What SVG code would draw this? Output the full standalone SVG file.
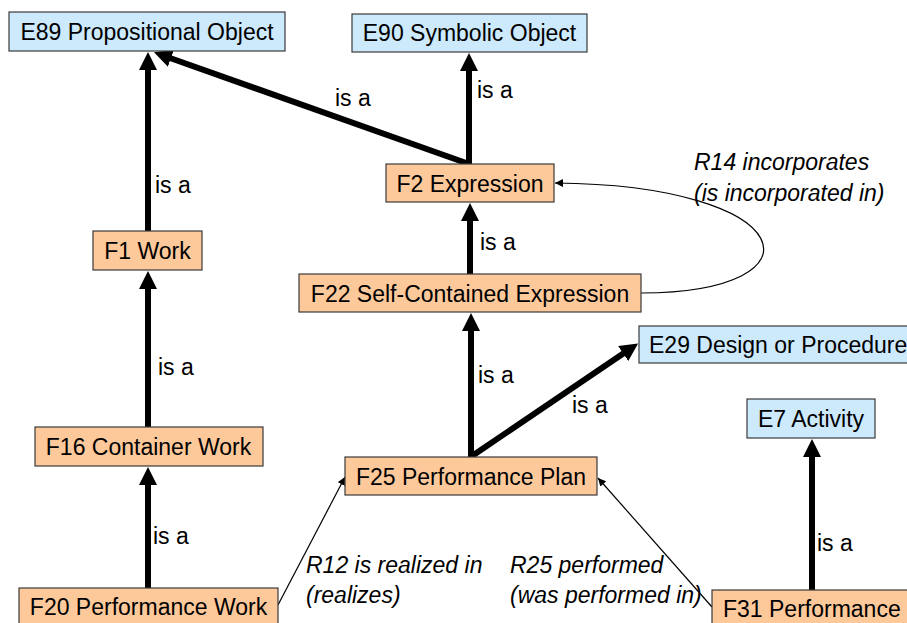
<svg xmlns="http://www.w3.org/2000/svg" width="907" height="623" viewBox="0 0 907 623">
<style>
text{font-family:"Liberation Sans",Arial,sans-serif;font-size:23px;fill:#000}
.m{text-anchor:middle}
.i{font-style:italic}
.b{fill:#cde9fc;stroke:#3a3a3a;stroke-width:1.2}
.o{fill:#fdc99b;stroke:#3a3a3a;stroke-width:1.2}
.t{fill:none;stroke:#000;stroke-width:6}
.n{fill:none;stroke:#000;stroke-width:1.2}
</style>
<defs>
<marker id="big" markerUnits="userSpaceOnUse" markerWidth="19" markerHeight="18" refX="1" refY="9" orient="auto"><path d="M0,0 L18,9 L0,18 z" fill="#000"/></marker>
<marker id="sm" markerUnits="userSpaceOnUse" markerWidth="9" markerHeight="8" refX="8" refY="4" orient="auto"><path d="M0,0 L8,4 L0,8 z" fill="#000"/></marker>
</defs>
<g id="connectors">
<path class="t" d="M148,231 L148,69" marker-end="url(#big)"/>
<path class="t" d="M469,164 L170,58" marker-end="url(#big)"/>
<path class="t" d="M469,164 L469,70" marker-end="url(#big)"/>
<path class="t" d="M470,274 L470,220" marker-end="url(#big)"/>
<path class="t" d="M471,457 L471,330" marker-end="url(#big)"/>
<path class="t" d="M472,456 L624,353" marker-end="url(#big)"/>
<path class="t" d="M148,427 L148,288" marker-end="url(#big)"/>
<path class="t" d="M148,588 L148,484" marker-end="url(#big)"/>
<path class="t" d="M812,590 L812,456" marker-end="url(#big)"/>
<path class="n" d="M278,605 L345,477" marker-end="url(#sm)"/>
<path class="n" d="M712,607 L598,478" marker-end="url(#sm)"/>
<path class="n" d="M641,293 C830,292 800,185 555,183" marker-end="url(#sm)"/>
<text x="335" y="106">is a</text>
<text x="477" y="98">is a</text>
<text x="155" y="193">is a</text>
<text x="480" y="250">is a</text>
<text x="158" y="375">is a</text>
<text x="478" y="383">is a</text>
<text x="572" y="413">is a</text>
<text x="153" y="544">is a</text>
<text x="817" y="551">is a</text>
<text class="i" x="694" y="170">R14 incorporates</text>
<text class="i" x="694" y="201">(is incorporated in)</text>
<text class="i" x="306" y="573">R12 is realized in</text>
<text class="i" x="306" y="603">(realizes)</text>
<text class="i" x="510" y="573">R25 performed</text>
<text class="i" x="510" y="603">(was performed in)</text>
</g>
<g id="E89"><rect class="b" x="9" y="12" width="276" height="39"/><text class="m" x="147" y="40">E89 Propositional Object</text></g>
<g id="E90"><rect class="b" x="352" y="14" width="235" height="38"/><text class="m" x="469.5" y="41">E90 Symbolic Object</text></g>
<g id="F2"><rect class="o" x="386" y="164" width="168" height="38"/><text class="m" x="470" y="191.5">F2 Expression</text></g>
<g id="F1"><rect class="o" x="93" y="231" width="109" height="39"/><text class="m" x="147.5" y="259">F1 Work</text></g>
<g id="F22"><rect class="o" x="299" y="274" width="342" height="38"/><text class="m" x="470" y="301.5">F22 Self-Contained Expression</text></g>
<g id="E29"><rect class="b" x="639" y="326" width="290" height="37"/><text x="649" y="352.5">E29 Design or Procedure</text></g>
<g id="E7"><rect class="b" x="747" y="399" width="128" height="39"/><text class="m" x="811" y="427">E7 Activity</text></g>
<g id="F16"><rect class="o" x="35" y="427" width="228" height="39"/><text class="m" x="148.5" y="455">F16 Container Work</text></g>
<g id="F25"><rect class="o" x="345" y="457" width="252" height="38"/><text class="m" x="471" y="485">F25 Performance Plan</text></g>
<g id="F20"><rect class="o" x="19" y="588" width="259" height="45"/><text class="m" x="148.5" y="615">F20 Performance Work</text></g>
<g id="F31"><rect class="o" x="712" y="590" width="220" height="45"/><text x="723" y="617">F31 Performance</text></g>
</svg>
